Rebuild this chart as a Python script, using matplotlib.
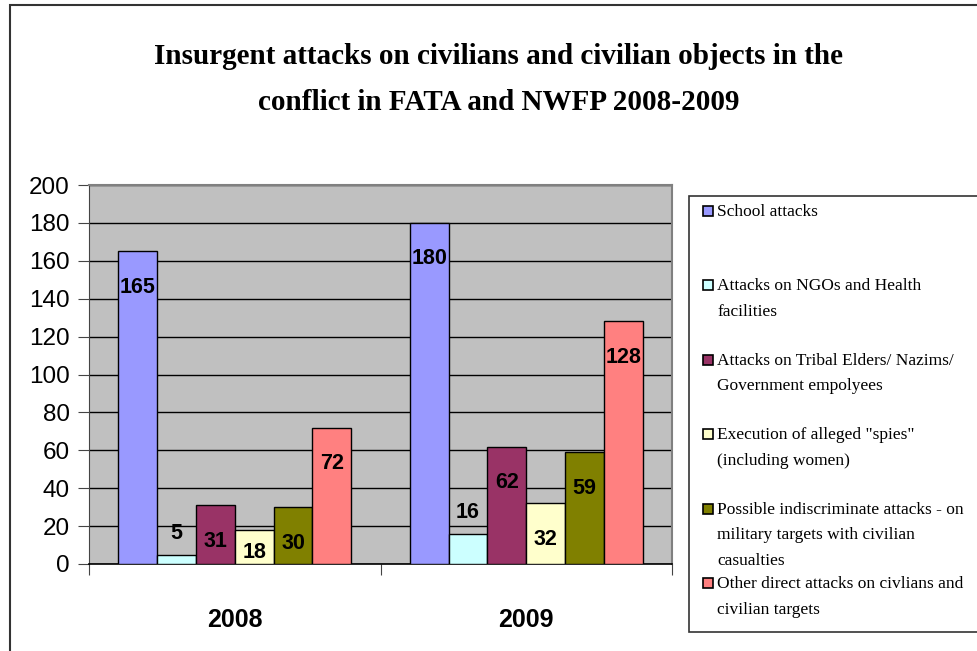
import matplotlib
matplotlib.use('Agg')
import matplotlib.pyplot as plt
from matplotlib.patches import Rectangle
import numpy as np

# data
years = ['2008', '2009']
series = ['School attacks',
          'Attacks on NGOs and Health\nfacilities',
          'Attacks on Tribal Elders/ Nazims/\nGovernment empolyees',
          'Execution of alleged "spies"\n(including women)',
          'Possible indiscriminate attacks - on\nmilitary targets with civilian\ncasualties',
          'Other direct attacks on civlians and\ncivilian targets']
school = [165, 180]
ngo = [5, 16]
elders = [31, 62]
spies = [18, 32]
indiscriminate = [30, 59]
other = [72, 128]
values = [school, ngo, elders, spies, indiscriminate, other]
colors = ['#9999FF', '#CCFFFF', '#993366', '#FFFFCC', '#808000', '#FF8080']

W, H = 977, 651
fig = plt.figure(figsize=(W / 100, H / 100), dpi=100)

sans = ['Liberation Sans', 'DejaVu Sans']
serif = ['Liberation Serif', 'DejaVu Serif']

# outer chart border
fig.patches.append(Rectangle((10 / W, -0.1), 1.2, 1 - 5 / H + 0.1,
                             transform=fig.transFigure, fill=False,
                             edgecolor='#333333', lw=1.5))

ax = fig.add_axes([89 / W, 1 - 564 / H, (672 - 89) / W, (564 - 185) / H])
ax.set_facecolor('#C0C0C0')

n = len(values)
bw = 1 / (n + 1.5)
x = np.arange(len(years))
for i, (vals, c) in enumerate(zip(values, colors)):
    xs = x + (i - (n - 1) / 2) * bw
    ax.bar(xs, vals, bw, color=c, edgecolor='black', linewidth=1, zorder=3)
    for xi, v in zip(xs, vals):
        if v < 17:
            ly = v + 11
        else:
            ly = max(v - 19, 6)
        ax.text(xi, ly, str(v), ha='center', va='center', fontsize=15.5,
                fontweight='bold', family=sans, zorder=4)

ax.set_ylim(0, 200)
ax.set_yticks(np.arange(0, 201, 20))
ax.set_xlim(-0.5, 1.5)
ax.set_xticks([-0.5, 0.5, 1.5])
ax.set_xticklabels([])
ax.set_xticks(x, minor=True)
ax.set_xticklabels(years, minor=True, fontsize=18, fontweight='bold', family=sans)
ax.tick_params(axis='x', which='minor', length=0, pad=32)
ax.tick_params(axis='x', which='major', length=8, color='#444444', direction='out')
ax.tick_params(axis='y', length=8, color='#444444', direction='out', pad=6)
for lab in ax.get_yticklabels():
    lab.set_fontsize(17.5)
    lab.set_family(sans)
ax.grid(axis='y', color='black', lw=1, zorder=1)
for s in ['top', 'right']:
    ax.spines[s].set_color('#808080')
    ax.spines[s].set_linewidth(1.5)
ax.spines['left'].set_color('#444444')
ax.spines['bottom'].set_color('black')
ax.spines['bottom'].set_linewidth(1.2)

# title
fig.text(499 / W, 1 - 56 / H, 'Insurgent attacks on civilians and civilian objects in the',
         ha='center', va='center', fontsize=21, fontweight='bold', family=serif)
fig.text(499 / W, 1 - 102 / H, 'conflict in FATA and NWFP 2008-2009',
         ha='center', va='center', fontsize=21, fontweight='bold', family=serif)

# legend box
fig.patches.append(Rectangle((689 / W, 1 - 632 / H), 0.5, (632 - 196) / H,
                             transform=fig.transFigure, facecolor='white',
                             edgecolor='#333333', lw=1.2))
for i, (name, c) in enumerate(zip(series, colors)):
    yc = 211 + i * 74.4
    fig.patches.append(Rectangle((703 / W, 1 - (yc + 5) / H), 10 / W, 10 / H,
                                 transform=fig.transFigure, facecolor=c,
                                 edgecolor='black', lw=1.2))
    fig.text(717 / W, 1 - (yc - 7) / H, name, ha='left', va='top',
             fontsize=12.5, family=serif, linespacing=1.8)

fig.savefig('out.png', dpi=100)
